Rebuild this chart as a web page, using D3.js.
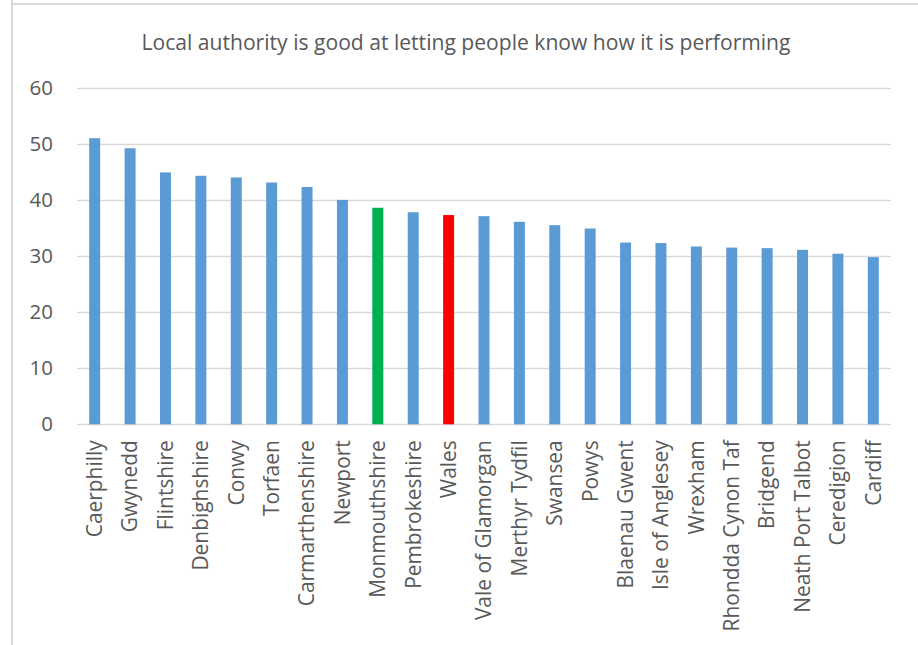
<!DOCTYPE html>
<html>
<head>
<meta charset="utf-8">
<script src="https://cdn.jsdelivr.net/npm/d3@7"></script>
<style>
  html, body { margin: 0; padding: 0; background: #fff; }
  svg { display: block; }
  text { font-family: "Open Sans", "Liberation Sans", sans-serif; fill: #595959; }
</style>
</head>
<body>
<svg id="chart" width="918" height="645"></svg>
<script>
const title = "Local authority is good at letting people know how it is performing";

const authorities = [
  "Caerphilly", "Gwynedd", "Flintshire", "Denbighshire", "Conwy", "Torfaen",
  "Carmarthenshire", "Newport", "Monmouthshire", "Pembrokeshire", "Wales",
  "Vale of Glamorgan", "Merthyr Tydfil", "Swansea", "Powys", "Blaenau Gwent",
  "Isle of Anglesey", "Wrexham", "Rhondda Cynon Taf", "Bridgend",
  "Neath Port Talbot", "Ceredigion", "Cardiff"
];

const percentages = [
  51.0, 49.2, 44.9, 44.3, 44.0, 43.1,
  42.3, 40.0, 38.6, 37.8, 37.3,
  37.1, 36.1, 35.5, 34.9, 32.4,
  32.3, 31.7, 31.5, 31.4,
  31.1, 30.4, 29.8
];

const yTicks = [0, 10, 20, 30, 40, 50, 60];

const highlight = { "Monmouthshire": "#00B050", "Wales": "#FF0000" };
const baseColour = "#5B9BD5";

const svg = d3.select("#chart");

// outer frame edges
svg.append("line").attr("x1", 12).attr("x2", 12).attr("y1", 0).attr("y2", 645)
  .attr("stroke", "#D9D9D9").attr("stroke-width", 2);
svg.append("line").attr("x1", 12).attr("x2", 918).attr("y1", 4).attr("y2", 4)
  .attr("stroke", "#D9D9D9").attr("stroke-width", 2);

const plot = { left: 77, right: 891, top: 87.7, bottom: 424.3 };

const x = d3.scaleBand().domain(authorities)
  .range([plot.left, plot.right]).paddingInner(0.69).paddingOuter(0.345);
const y = d3.scaleLinear().domain([0, 60]).range([plot.bottom, plot.top]);

// gridlines
svg.append("g").selectAll("line").data(yTicks).join("line")
  .attr("x1", plot.left).attr("x2", plot.right)
  .attr("y1", d => Math.round(y(d)) + 0.5).attr("y2", d => Math.round(y(d)) + 0.5)
  .attr("stroke", "#D9D9D9").attr("stroke-width", 1.5);

// y axis labels
const yAxis = d3.axisLeft(y).tickValues(yTicks).tickSize(0).tickPadding(0);
const yg = svg.append("g").attr("transform", `translate(${plot.left - 24},0)`).call(yAxis);
yg.attr("font-size", null).attr("font-family", null);
yg.select(".domain").remove();
yg.selectAll("text").style("font-size", "20.5px").attr("fill", "#595959");

// bars
svg.append("g").selectAll("rect").data(authorities).join("rect")
  .attr("x", d => x(d))
  .attr("width", x.bandwidth())
  .attr("y", (d, i) => y(percentages[i]))
  .attr("height", (d, i) => y(0) - y(percentages[i]))
  .attr("fill", d => highlight[d] || baseColour);

// category labels
const xAxis = d3.axisBottom(x).tickSize(0).tickPadding(0);
const xg = svg.append("g").attr("transform", `translate(0,${plot.bottom})`).call(xAxis);
xg.attr("font-size", null).attr("font-family", null);
xg.select(".domain").remove();
xg.selectAll(".tick text")
  .style("font-size", "20.9px")
  .attr("fill", "#595959")
  .attr("text-anchor", "end")
  .attr("dy", "0.35em")
  .attr("transform", "translate(0,16) rotate(-90)")
  .attr("x", 0).attr("y", 0);

// title
svg.append("text")
  .attr("x", 466).attr("y", 50)
  .attr("text-anchor", "middle")
  .style("font-size", "21.1px")
  .text(title);
</script>
</body>
</html>
